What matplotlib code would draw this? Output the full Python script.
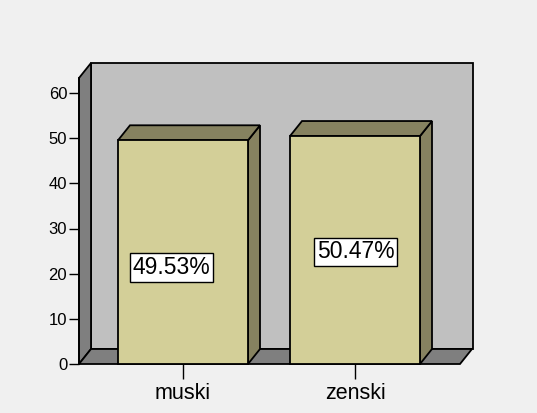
import matplotlib
matplotlib.use('Agg')
import matplotlib.pyplot as plt
from matplotlib.patches import Polygon

categories = ['muski', 'zenski']
values = [49.53, 50.47]
labels = ['49.53%', '50.47%']
yticks = [0, 10, 20, 30, 40, 50, 60]

plt.rcParams['font.family'] = ['Liberation Sans', 'DejaVu Sans']

fig = plt.figure(figsize=(5.37, 4.13), dpi=100, facecolor='#f0f0f0')
W, H = 537, 413
# axes placed in pixel coords: left 79, right 473, top 63, bottom 364
ax = fig.add_axes([79 / W, 1 - 364 / H, (473 - 79) / W, (364 - 63) / H])
ax.set_facecolor('none')

px_x = 172.0          # pixels per category unit
px_y = (364 - 93) / 60.0
x0 = (79 - 183) / px_x
x1 = (473 - 183) / px_x
ytop = (364 - 63) / px_y
ax.set_xlim(x0, x1)
ax.set_ylim(0, ytop)

dx = 12 / px_x
dy = 15 / px_y
xr = (460 - 183) / px_x   # front right floor edge
lw = 1.3

def poly(pts, fc):
    ax.add_patch(Polygon(pts, closed=True, facecolor=fc, edgecolor='black',
                         linewidth=lw, joinstyle='miter', clip_on=False))

# back wall
poly([(x0 + dx, dy), (x1, dy), (x1, ytop), (x0 + dx, ytop)], '#c0c0c0')
# left wall
poly([(x0, 0), (x0 + dx, dy), (x0 + dx, ytop), (x0, ytop - dy)], '#7f7f7f')
# floor
poly([(x0, 0), (xr, 0), (xr + dx, dy), (x0 + dx, dy)], '#7f7f7f')

bw = 130 / px_x
for i, v in enumerate(values):
    l, r = i - bw / 2, i + bw / 2
    poly([(r, 0), (r + dx, dy), (r + dx, v + dy), (r, v)], '#868260')
    poly([(l, v), (r, v), (r + dx, v + dy), (l + dx, v + dy)], '#868260')
    poly([(l, 0), (r, 0), (r, v), (l, v)], '#d3cf98')

label_pos = [(-0.067, 21.4), (1.003, 24.8)]
for (lx, ly), t in zip(label_pos, labels):
    ax.text(lx, ly, t, ha='center', va='center', fontsize=16.5, zorder=5,
            bbox=dict(boxstyle='square,pad=0.12', facecolor='white',
                      edgecolor='black', linewidth=1.0))

for s in ax.spines.values():
    s.set_visible(False)

ax.set_yticks(yticks)
ax.set_yticklabels([str(t) for t in yticks])
ax.tick_params(axis='y', direction='out', length=7.5, width=1.0, pad=1,
               labelsize=12)
ax.set_xticks(range(len(categories)))
ax.set_xticklabels(categories)
ax.tick_params(axis='x', direction='out', length=10.5, width=1.0, pad=3,
               labelsize=15.5)
# y axis line at front-left edge
ax.plot([x0, x0], [0, ytop - dy], color='black', lw=lw, clip_on=False)

fig.savefig('out.png', dpi=100, facecolor=fig.get_facecolor())
